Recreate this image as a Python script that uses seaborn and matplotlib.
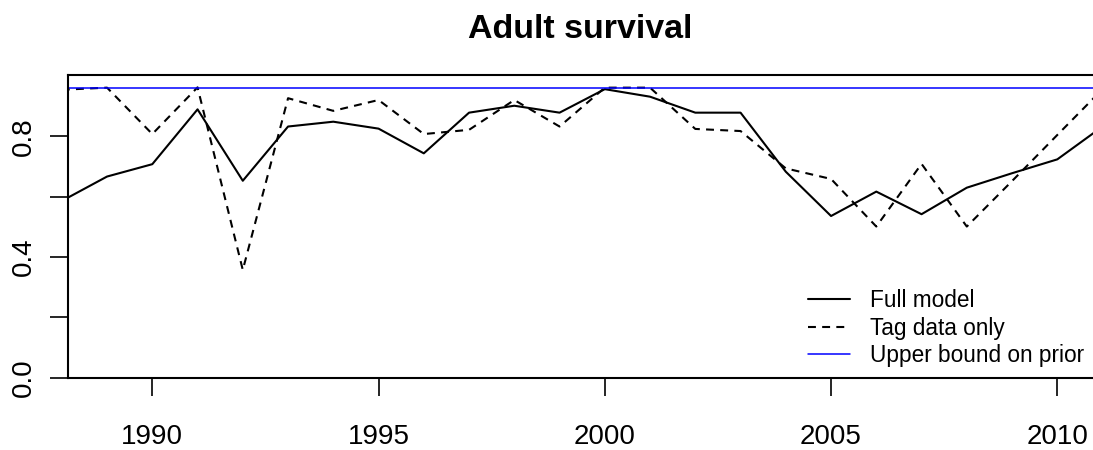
import numpy as np
import pandas as pd
import matplotlib
matplotlib.use("Agg")
import matplotlib.pyplot as plt
import seaborn as sns

# data
years = list(range(1988, 2012))
full_model = [0.586, 0.667, 0.708, 0.890, 0.653, 0.833, 0.849, 0.826, 0.744, 0.879,
              0.902, 0.879, 0.957, 0.932, 0.879, 0.879, 0.683, 0.536, 0.617, 0.542,
              0.630, 0.678, 0.724, 0.833]
tag_only = [0.955, 0.962, 0.808, 0.963, 0.357, 0.927, 0.885, 0.921, 0.808, 0.822,
            0.921, 0.833, 0.962, 0.962, 0.825, 0.818, 0.694, 0.659, 0.501, 0.709,
            0.501, 0.652, 0.805, 0.957]
prior_upper = 0.96

df = pd.DataFrame({"year": years, "full": full_model, "tag": tag_only})

sns.set_style("white")
plt.rcParams["font.family"] = ["Liberation Sans", "DejaVu Sans"]
plt.rcParams["text.color"] = "black"
plt.rcParams["axes.labelcolor"] = "black"
plt.rcParams["xtick.color"] = "black"
plt.rcParams["ytick.color"] = "black"

fig = plt.figure(figsize=(10.93, 4.5), dpi=100)
# axes: left spine at x=68px, bottom at 377.5px, top at 75px, right cut off by the image edge
ax = fig.add_axes([68 / 1093, 1 - 377.5 / 450, 1 - 68 / 1093, (377.5 - 75) / 450])

sns.lineplot(data=df, x="year", y="full", ax=ax, color="black", lw=1.5, label="Full model")
sns.lineplot(data=df, x="year", y="tag", ax=ax, color="black", lw=1.5, label="Tag data only")
ax.lines[1].set_dashes((3.8, 3))
ax.axhline(prior_upper, color="#0000ff", lw=1.1, label="Upper bound on prior")

ax.set_xlim(1988.137, 2010.789)
ax.set_ylim(0, 1.004)
ax.set_xticks([1990, 1995, 2000, 2005, 2010])
ax.set_yticks([0.0, 0.2, 0.4, 0.6, 0.8])
ax.set_yticklabels(["0.0", "", "0.4", "", "0.8"], rotation=90, va="center")
ax.set_xlabel("")
ax.set_ylabel("")

for s in ["left", "bottom", "top"]:
    ax.spines[s].set_visible(True)
    ax.spines[s].set_color("black")
    ax.spines[s].set_linewidth(1.5)
ax.spines["right"].set_visible(False)

ax.tick_params(axis="x", direction="out", length=13, width=1.2, pad=20.5, labelsize=20, bottom=True)
ax.tick_params(axis="y", direction="out", length=13, width=1.2, pad=9.5, labelsize=20, left=True)

ax.set_title("Adult survival", fontsize=24.5, fontweight="bold", pad=27, color="black")

ax.legend(loc="lower right", bbox_to_anchor=(0.991, 0.034), frameon=False, fontsize=16.3,
          handlelength=1.86, handletextpad=0.88, labelspacing=0.2, borderpad=0, borderaxespad=0)

fig.savefig("out.png", dpi=100)
